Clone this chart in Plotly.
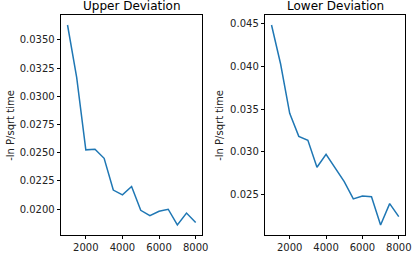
import plotly.graph_objects as go

x_vals = [1000, 1500, 2000, 2500, 3000, 3500, 4000, 4500, 5000, 5500, 6000, 6500, 7000, 7500, 8000]
upper_dev = [0.03633, 0.03168, 0.02525, 0.02530, 0.02450, 0.02168, 0.02125, 0.02200, 0.01988,
             0.01940, 0.01980, 0.01998, 0.01858, 0.01964, 0.01881]
lower_dev = [0.04488, 0.04030, 0.03451, 0.03180, 0.03135, 0.02817, 0.02968, 0.02805, 0.02648,
             0.02445, 0.02480, 0.02472, 0.02139, 0.02390, 0.02237]
titles = ["Upper Deviation", "Lower Deviation"]
ylabel = "-ln P/sqrt time"

W, H = 420, 255
line_color = "#1f77b4"
font = "DejaVu Sans"

fig = go.Figure()
fig.add_trace(go.Scatter(x=x_vals, y=upper_dev, mode="lines", line=dict(color=line_color, width=1.5),
                         xaxis="x", yaxis="y", showlegend=False))
fig.add_trace(go.Scatter(x=x_vals, y=lower_dev, mode="lines", line=dict(color=line_color, width=1.5),
                         xaxis="x2", yaxis="y2", showlegend=False))

def pad(vals, frac=0.05):
    lo, hi = min(vals), max(vals)
    d = (hi - lo) * frac
    return [lo - d, hi + d]

y_dom = [1 - 235 / H, 1 - 15 / H]
ax_common = dict(showline=True, linecolor="black", linewidth=0.8, mirror=True, ticks="outside",
                 ticklen=3.5, tickwidth=0.8, tickcolor="black", showgrid=False, zeroline=False,
                 tickfont=dict(family=font, size=10, color="#222"))

fig.update_layout(
    width=W, height=H, margin=dict(l=0, r=0, t=0, b=0),
    plot_bgcolor="white", paper_bgcolor="white",
    xaxis=dict(domain=[62 / W, 205 / W], range=pad(x_vals), dtick=2000, tick0=0, anchor="y", **ax_common),
    yaxis=dict(domain=y_dom, range=pad(upper_dev), dtick=0.0025, tick0=0, tickformat=".4f", anchor="x", **ax_common),
    xaxis2=dict(domain=[269 / W, 411 / W], range=pad(x_vals), dtick=2000, tick0=0, anchor="y2", **ax_common),
    yaxis2=dict(domain=y_dom, range=pad(lower_dev), dtick=0.005, tick0=0, tickformat=".3f", anchor="x2", **ax_common),
)

anns = []
for cx, t in [((62 + 205) / 2, titles[0]), ((269 + 411) / 2, titles[1])]:
    anns.append(dict(text=t, x=cx / W, y=1 - 6 / H, xref="paper", yref="paper", showarrow=False,
                     xanchor="center", yanchor="middle", font=dict(family=font, size=12, color="black")))
for cx in [10, 222]:
    anns.append(dict(text=ylabel, x=cx / W, y=1 - 125 / H, xref="paper", yref="paper", showarrow=False,
                     textangle=-90, xanchor="center", yanchor="middle",
                     font=dict(family=font, size=10, color="#222")))
fig.update_layout(annotations=anns)

fig.write_html("out.html", config={"displayModeBar": False},
               post_script="document.body.style.margin='0';document.body.style.overflow='hidden';")
